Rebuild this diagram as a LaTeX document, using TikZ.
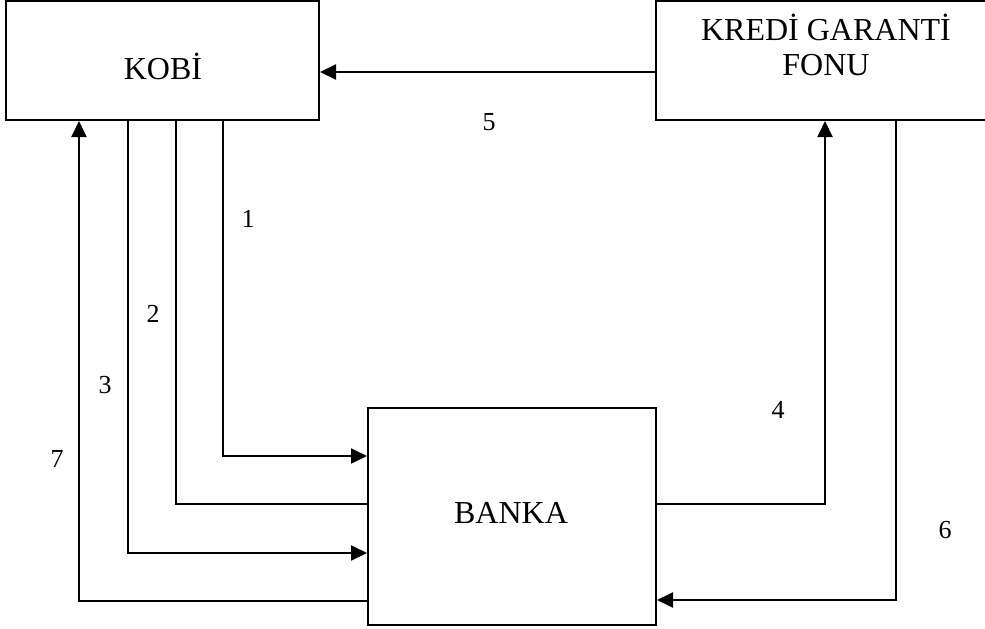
\documentclass[tikz,border=0pt]{standalone}
\usepackage{fontspec}
\setmainfont{Liberation Serif}
\usetikzlibrary{arrows.meta,positioning,calc}
\begin{document}
\begin{tikzpicture}[x=1pt,y=-1pt,line width=2pt,
  box/.style={shape=rectangle,draw,inner sep=0pt},
  txt/.style={font=\fontsize{32}{35}\selectfont,align=center},
  num/.style={font=\fontsize{26}{26}\selectfont,anchor=base},
  flow/.style={arrows=-{Triangle[length=16pt,width=15pt]}}]
\useasboundingbox (0,0) rectangle (985,629);

\node[box,minimum width=313,minimum height=119] (kobi) at (162.5,60.5) {};
\node[box,minimum width=340,minimum height=119] (kgf) at (826,60.5) {};
\node[box,minimum width=288,minimum height=217] (banka) at (512,516.5) {};
\node[txt,anchor=base] (kobitxt) at (163,79) {KOBİ};
\node[txt] (kgftxt) at (826,45) {KREDİ GARANTİ\\FONU};
\node[txt,anchor=base] (bankatxt) at (511,523) {BANKA};

\draw[flow] (kgf.west |- 0,72) -- (kobi.east |- 0,72);
\draw[flow] (223,0 |- kobi.south) |- (banka.west |- 0,456);
\draw (176,0 |- kobi.south) |- (banka.west |- 0,504);
\draw[flow] (128,0 |- kobi.south) |- (banka.west |- 0,553);
\draw[flow] (banka.west |- 0,601) -| (79,0 |- kobi.south);
\draw[flow] (banka.east |- 0,504) -| (825,0 |- kgf.south);
\draw[flow] (896,0 |- kgf.south) |- (banka.east |- 0,600);

\node[num] (n1) at (248,227) {1};
\node[num] (n2) at (153,322) {2};
\node[num] (n3) at (105,393) {3};
\node[num] (n4) at (778,418) {4};
\node[num] (n5) at (489,130) {5};
\node[num] (n6) at (945,538) {6};
\node[num] (n7) at (57,467) {7};
\end{tikzpicture}
\end{document}
